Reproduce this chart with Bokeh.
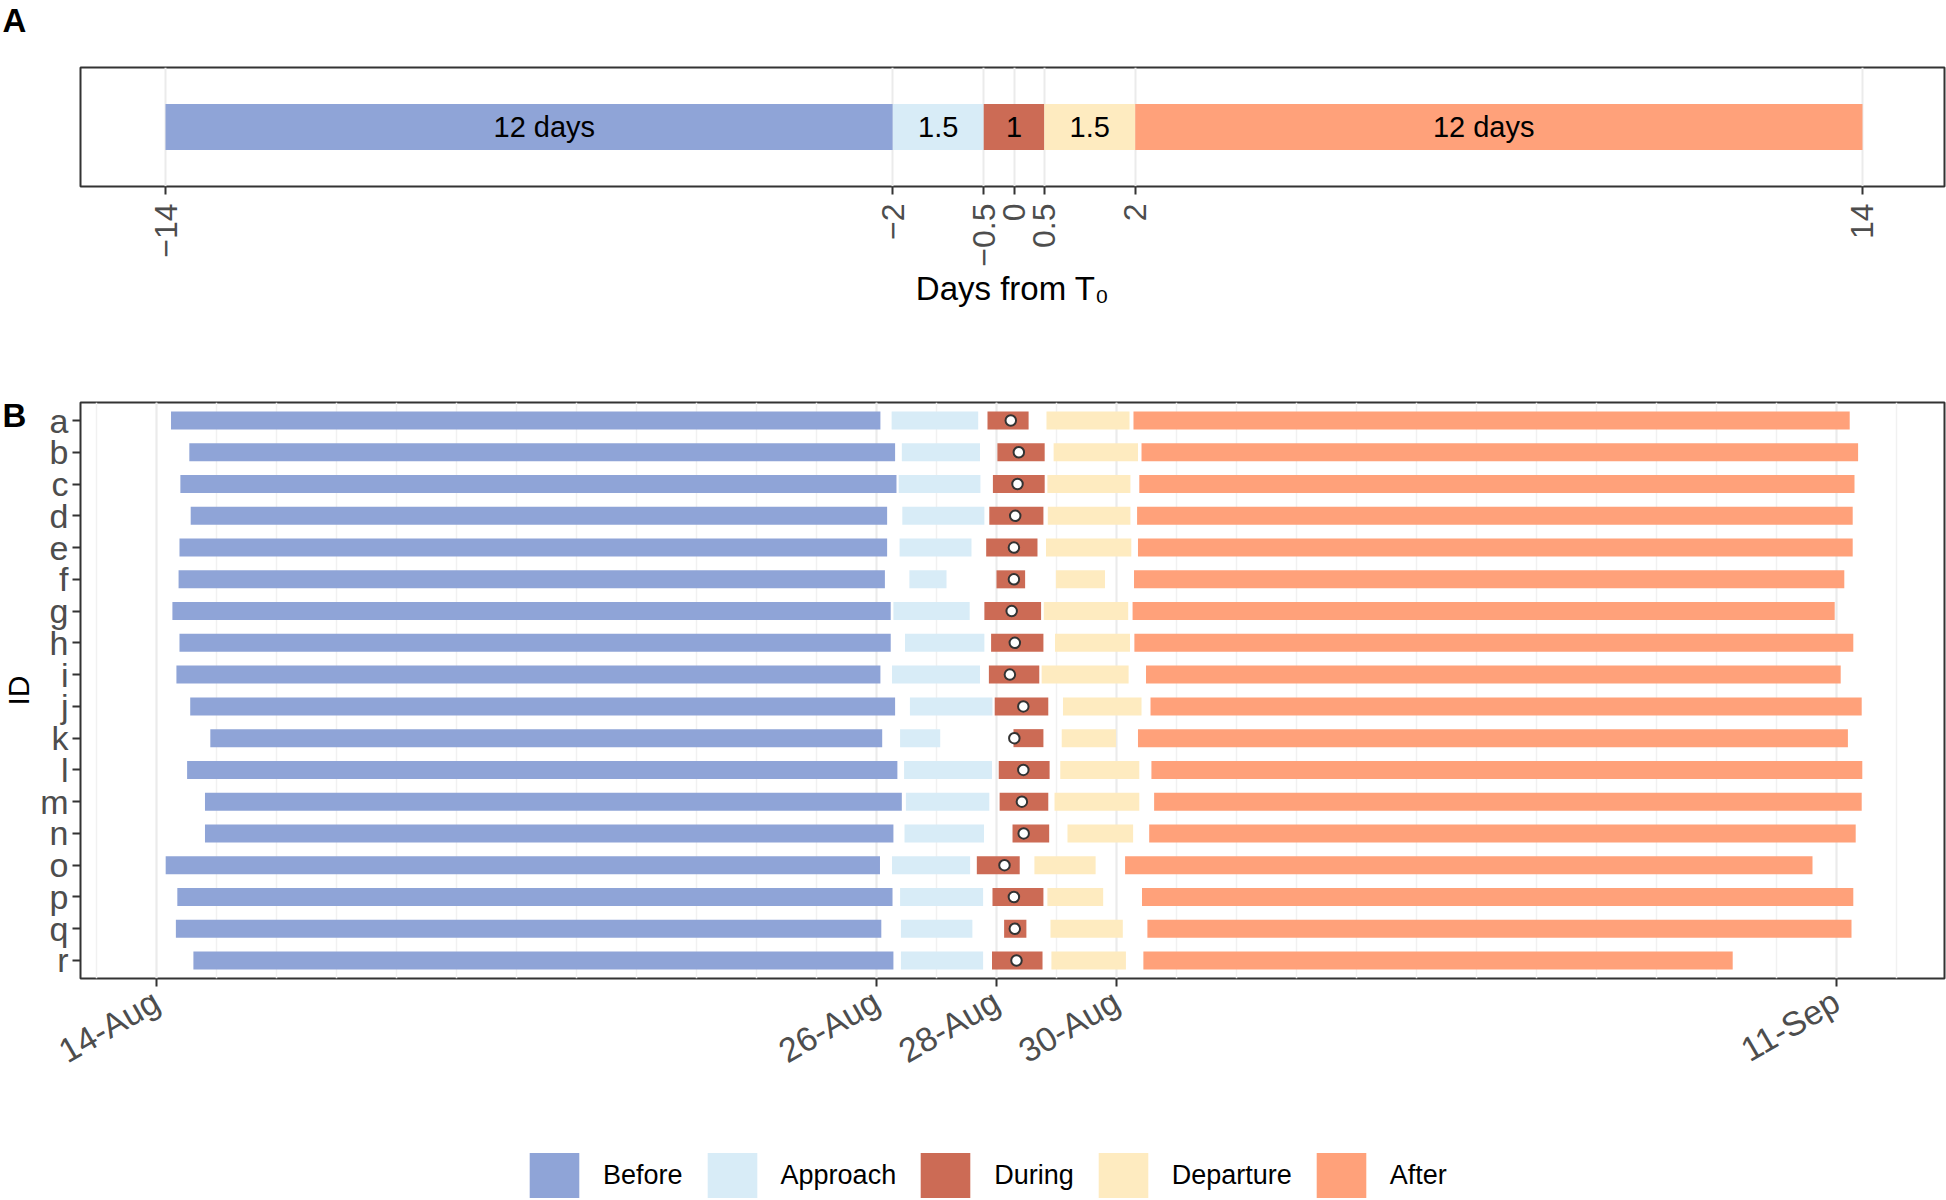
import math
import pandas as pd
from bokeh.plotting import figure
from bokeh.models import (Range1d, FixedTicker, ColumnDataSource, Legend, LegendItem,
                          DatetimeTickFormatter)
from bokeh.layouts import column, row
from bokeh.embed import file_html
from bokeh.resources import INLINE
from bokeh.core.properties import value

FONT = "Liberation Sans"

# ---------------- data: panel A (schematic) ----------------
phases = ["Before", "Approach", "During", "Departure", "After"]
colors = ["#8FA4D7", "#D8ECF7", "#CC6B55", "#FEEBC0", "#FFA17A"]
a_start = [-14, -2, -0.5, 0.5, 2]
a_end = [-2, -0.5, 0.5, 2, 14]
a_text = ["12 days", "1.5", "1", "1.5", "12 days"]
a_text_x = [-7.75, -1.25, 0, 1.25, 7.75]
a_ticks = [-14, -2, -0.5, 0, 0.5, 2, 14]
a_tick_labels = ["\u221214", "\u22122", "\u22120.5", "0", "0.5", "2", "14"]

# ---------------- data: panel B (days after base date) ----------------
base_date = "2019-08-14"
ids = list("abcdefghijklmnopqr")
before_start = [0.242, 0.547, 0.398, 0.570, 0.383, 0.368, 0.265, 0.383, 0.332,
                0.562, 0.897, 0.510, 0.808, 0.808, 0.153, 0.347, 0.323, 0.615]
before_end = [12.065, 12.310, 12.333, 12.177, 12.177, 12.140, 12.237, 12.237, 12.065,
              12.310, 12.095, 12.348, 12.422, 12.282, 12.058, 12.267, 12.080, 12.282]
approach_start = [12.252, 12.422, 12.370, 12.430, 12.385, 12.548, 12.282, 12.475, 12.258,
                  12.557, 12.393, 12.460, 12.490, 12.467, 12.258, 12.393, 12.407, 12.407]
approach_end = [13.695, 13.725, 13.732, 13.798, 13.583, 13.167, 13.553, 13.798, 13.725,
                13.933, 13.062, 13.925, 13.880, 13.792, 13.560, 13.777, 13.598, 13.777]
during_start = [13.850, 14.015, 13.940, 13.880, 13.828, 14.000, 13.798, 13.910, 13.873,
                13.970, 14.283, 14.037, 14.052, 14.267, 13.672, 13.933, 14.127, 13.925]
during_end = [14.535, 14.803, 14.803, 14.782, 14.683, 14.477, 14.743, 14.782, 14.713,
              14.863, 14.782, 14.885, 14.863, 14.878, 14.387, 14.782, 14.498, 14.767]
t0 = [14.238, 14.372, 14.350, 14.312, 14.290, 14.290, 14.253, 14.305, 14.223,
      14.447, 14.297, 14.447, 14.423, 14.453, 14.133, 14.290, 14.305, 14.333]
departure_start = [14.833, 14.952, 14.848, 14.855, 14.825, 14.990, 14.788, 14.975, 14.752,
                   15.108, 15.087, 15.063, 14.967, 15.183, 14.632, 14.848, 14.900, 14.915]
departure_end = [16.217, 16.358, 16.232, 16.232, 16.247, 15.808, 16.195, 16.225, 16.202,
                 16.417, 15.993, 16.380, 16.380, 16.277, 15.652, 15.778, 16.105, 16.157]
after_start = [16.283, 16.417, 16.380, 16.343, 16.358, 16.292, 16.268, 16.298, 16.492,
               16.567, 16.358, 16.582, 16.627, 16.545, 16.143, 16.425, 16.515, 16.448]
after_end = [28.22, 28.36, 28.30, 28.27, 28.27, 28.13, 27.97, 28.28, 28.07,
             28.42, 28.19, 28.43, 28.42, 28.32, 27.60, 28.28, 28.25, 26.27]
b_tick_dates = ["2019-08-14", "2019-08-26", "2019-08-28", "2019-08-30", "2019-09-11"]
b_tick_labels = ["14-Aug", "26-Aug", "28-Aug", "30-Aug", "11-Sep"]

# ---------------- helpers ----------------
BASE = pd.Timestamp(base_date)


def to_dt(days):
    return BASE + pd.to_timedelta(pd.Series(days, dtype=float), unit="D")


def to_ms(ts):
    return int(pd.Timestamp(ts).value // 10**6)


TICK_COLOR = "#333333"
LABEL_COLOR = "#4D4D4D"
STRIP_W = 36
TOTAL_W = 1946
TOTAL_H = 1200
W = TOTAL_W - STRIP_W
HA, HB = 350, 760
HL = TOTAL_H - HA - HB
FRAME_LEFT = 80 - STRIP_W          # border left of frames inside the main column


def style_frame(p):
    p.outline_line_color = TICK_COLOR
    p.outline_line_width = 2
    p.background_fill_color = "white"
    p.border_fill_color = "white"


def style_axis(ax, size):
    ax.axis_line_color = None
    ax.major_tick_out = 8
    ax.major_tick_in = 0
    ax.major_tick_line_width = 2
    ax.major_tick_line_color = TICK_COLOR
    ax.minor_tick_line_color = None
    ax.major_label_text_font = FONT
    ax.major_label_text_font_size = size
    ax.major_label_text_color = LABEL_COLOR


def bare(p):
    p.outline_line_color = None
    p.xgrid.grid_line_color = None
    p.ygrid.grid_line_color = None
    p.background_fill_color = "white"
    p.border_fill_color = "white"


# ================= Panel A =================
pA = figure(width=W, height=HA, output_backend="svg", toolbar_location=None,
            x_range=Range1d(-15.4025, 15.353), y_range=Range1d(0, 1),
            y_axis_location=None, min_border_left=FRAME_LEFT, min_border_right=2,
            min_border_top=67, min_border_bottom=HA - 67 - 119)
style_frame(pA)

srcA = ColumnDataSource(dict(left=a_start, right=a_end, color=colors))
pA.hbar(y=0.5, left="left", right="right", height=0.387, fill_color="color",
        line_color=None, source=srcA)
pA.text(x=a_text_x, y=[0.5] * len(a_text_x), text=a_text, text_font=value(FONT),
        text_font_size="29px", text_align="center", text_baseline="middle",
        text_color="black")

tickerA = FixedTicker(ticks=a_ticks)
pA.xaxis.ticker = tickerA
pA.xgrid.ticker = tickerA
pA.xgrid.grid_line_color = "#EBEBEB"
pA.xgrid.grid_line_width = 2
pA.ygrid.grid_line_color = None
style_axis(pA.xaxis, "32px")
pA.xaxis.major_label_overrides = {t: lab for t, lab in zip(a_ticks, a_tick_labels)}
pA.xaxis.major_label_orientation = math.pi / 2
pA.xaxis.major_label_text_align = "center"
pA.xaxis.major_label_text_baseline = "middle"
pA.xaxis.major_label_standoff = 9
pA.xaxis.axis_label = "Days from T\u2080"
pA.xaxis.axis_label_text_font = FONT
pA.xaxis.axis_label_text_font_size = "33px"
pA.xaxis.axis_label_text_font_style = "normal"
pA.xaxis.axis_label_text_color = "black"
pA.xaxis.axis_label_standoff = 0

# ================= Panel B =================
n = len(ids)
ypos = [n - 1 - i for i in range(n)]

pB = figure(width=W, height=HB, output_backend="svg", toolbar_location=None,
            x_axis_type="datetime",
            x_range=Range1d(BASE - pd.Timedelta(days=1.2667), BASE + pd.Timedelta(days=29.8)),
            y_range=Range1d(-0.567, n - 1 + 0.567),
            min_border_left=FRAME_LEFT, min_border_right=2, min_border_top=52,
            min_border_bottom=HB - 52 - 576)
style_frame(pB)

segments = [(before_start, before_end), (approach_start, approach_end),
            (during_start, during_end), (departure_start, departure_end),
            (after_start, after_end)]
for (s, e), c in zip(segments, colors):
    src = ColumnDataSource(dict(y=ypos, left=to_dt(s), right=to_dt(e)))
    pB.hbar(y="y", left="left", right="right", height=0.567, source=src,
            fill_color=c, line_color=None)

pB.scatter(x=to_dt(t0), y=ypos, marker="circle", size=10.5, fill_color="white",
           line_color=TICK_COLOR, line_width=2)

tick_ms = [to_ms(d) for d in b_tick_dates]
minor_days = pd.date_range(BASE - pd.Timedelta(days=1), BASE + pd.Timedelta(days=29), freq="D")
tickerB = FixedTicker(ticks=tick_ms, minor_ticks=[to_ms(d) for d in minor_days])
pB.xaxis.ticker = tickerB
pB.xgrid.ticker = tickerB
fmt = "%d-%b"
pB.xaxis.formatter = DatetimeTickFormatter(days=fmt, months=fmt, years=fmt, hours=fmt,
                                           hourmin=fmt, minutes=fmt, minsec=fmt,
                                           seconds=fmt, milliseconds=fmt, microseconds=fmt)
pB.xaxis.major_label_overrides = {m: lab for m, lab in zip(tick_ms, b_tick_labels)}
pB.xaxis.major_label_orientation = math.pi / 6
pB.xgrid.grid_line_color = "#EBEBEB"
pB.xgrid.grid_line_width = 2
pB.xgrid.minor_grid_line_color = "#F1F1F1"
pB.xgrid.minor_grid_line_width = 1.5
pB.ygrid.grid_line_color = None

pB.yaxis.ticker = FixedTicker(ticks=ypos)
pB.yaxis.major_label_overrides = {y: lab for y, lab in zip(ypos, ids)}
style_axis(pB.xaxis, "34px")
style_axis(pB.yaxis, "34px")
pB.yaxis.major_label_standoff = 4
pB.xaxis.major_label_standoff = 12

# ================= Legend row =================
# (frames in a column are aligned, so this frame starts at x = 80 like the panels)
pL = figure(width=W, height=HL, output_backend="svg", toolbar_location=None,
            x_range=Range1d(0, 1), y_range=Range1d(0, 1),
            x_axis_location=None, y_axis_location=None,
            min_border=0, min_border_left=FRAME_LEFT, min_border_right=2,
            min_border_top=0, min_border_bottom=0)
bare(pL)
# zero-size glyphs: they only give the legend a fill style for each key
leg_renderers = [pL.hbar(y=[0.5], left=[0.5], right=[0.5], height=0, fill_color=c,
                         line_color=None) for c in colors]
legend = Legend(items=[LegendItem(label=ph, renderers=[r]) for ph, r in zip(phases, leg_renderers)],
                location=(523 - 80, -3), orientation="horizontal",
                glyph_width=62, glyph_height=56, label_standoff=18, spacing=18,
                padding=0, margin=0, border_line_color=None, background_fill_alpha=0,
                label_text_font=FONT, label_text_font_size="27px", label_text_color="black")
pL.add_layout(legend)

# ================= Left strip with panel tags and ID title =================
pS = figure(width=STRIP_W, height=TOTAL_H, output_backend="svg", toolbar_location=None,
            x_range=Range1d(0, STRIP_W), y_range=Range1d(TOTAL_H, 0),
            x_axis_location=None, y_axis_location=None,
            min_border=0, min_border_left=0, min_border_right=0,
            min_border_top=0, min_border_bottom=0)
bare(pS)
pS.text(x=[2], y=[1], text=["A"], text_font=value(FONT),
        text_font_style="bold", text_font_size="33px", text_align="left",
        text_baseline="top", text_color="black")
pS.text(x=[2], y=[415], text=["B"], text_font=value(FONT),
        text_font_style="bold", text_font_size="33px", text_align="left",
        text_baseline="middle", text_color="black")
pS.text(x=[STRIP_W / 2], y=[690], text=["ID"], angle=math.pi / 2, text_font=value(FONT),
        text_font_size="30px", text_align="center", text_baseline="middle",
        text_color="black")

layout = row(pS, column(pA, pB, pL, spacing=0), spacing=0)
open("out.html", "w").write(file_html(layout, INLINE))
